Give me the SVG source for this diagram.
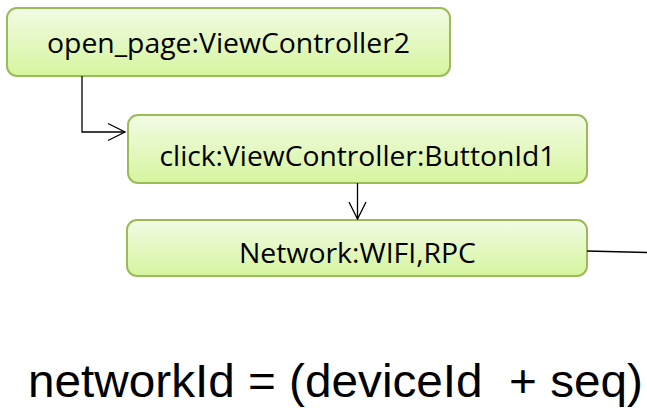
<svg xmlns="http://www.w3.org/2000/svg" width="647" height="408" viewBox="0 0 647 408">
<style>
.box{fill:url(#g);stroke:#9bbb59;stroke-width:2}
.lbl{font-family:"Open Sans","Noto Sans",sans-serif;font-size:28px;fill:#000;text-anchor:middle}
.con{fill:none;stroke:#000;stroke-width:1.3}
.formula{font-family:"Liberation Sans",Arial,sans-serif;font-size:46px;fill:#000}
</style>
<defs>
<linearGradient id="g" x1="0" y1="0" x2="0" y2="1">
<stop offset="0" stop-color="#f2fbe5"/>
<stop offset="1" stop-color="#d6f59e"/>
</linearGradient>
<marker id="arr" viewBox="0 0 20 20" refX="18" refY="10" markerWidth="20" markerHeight="20" markerUnits="userSpaceOnUse" orient="auto">
<path d="M1,1.5 L18,10 L1,18.5" fill="none" stroke="#000" stroke-width="1.3"/>
</marker>
</defs>
<g id="node-open-page">
<rect class="box" x="7" y="8" width="443" height="68" rx="10"/>
<text class="lbl" x="228.5" y="53" textLength="363" lengthAdjust="spacingAndGlyphs">open_page:ViewController2</text>
</g>
<g id="node-click">
<rect class="box" x="128" y="115" width="459" height="68" rx="10"/>
<text class="lbl" x="357.5" y="166" textLength="396" lengthAdjust="spacingAndGlyphs">click:ViewController:ButtonId1</text>
</g>
<g id="node-network">
<rect class="box" x="127" y="220" width="460" height="56" rx="10"/>
<text class="lbl" x="357.5" y="263" textLength="237" lengthAdjust="spacingAndGlyphs">Network:WIFI,RPC</text>
</g>
<g id="connectors">
<path class="con" d="M82,76 V132 H125" marker-end="url(#arr)"/>
<path class="con" d="M357.5,183 V219" marker-end="url(#arr)"/>
<path class="con" d="M587,251 L647,252.5"/>
</g>
<text class="formula" x="28" y="397" textLength="615" lengthAdjust="spacingAndGlyphs" xml:space="preserve">networkId = (deviceId  + seq)</text>
</svg>
